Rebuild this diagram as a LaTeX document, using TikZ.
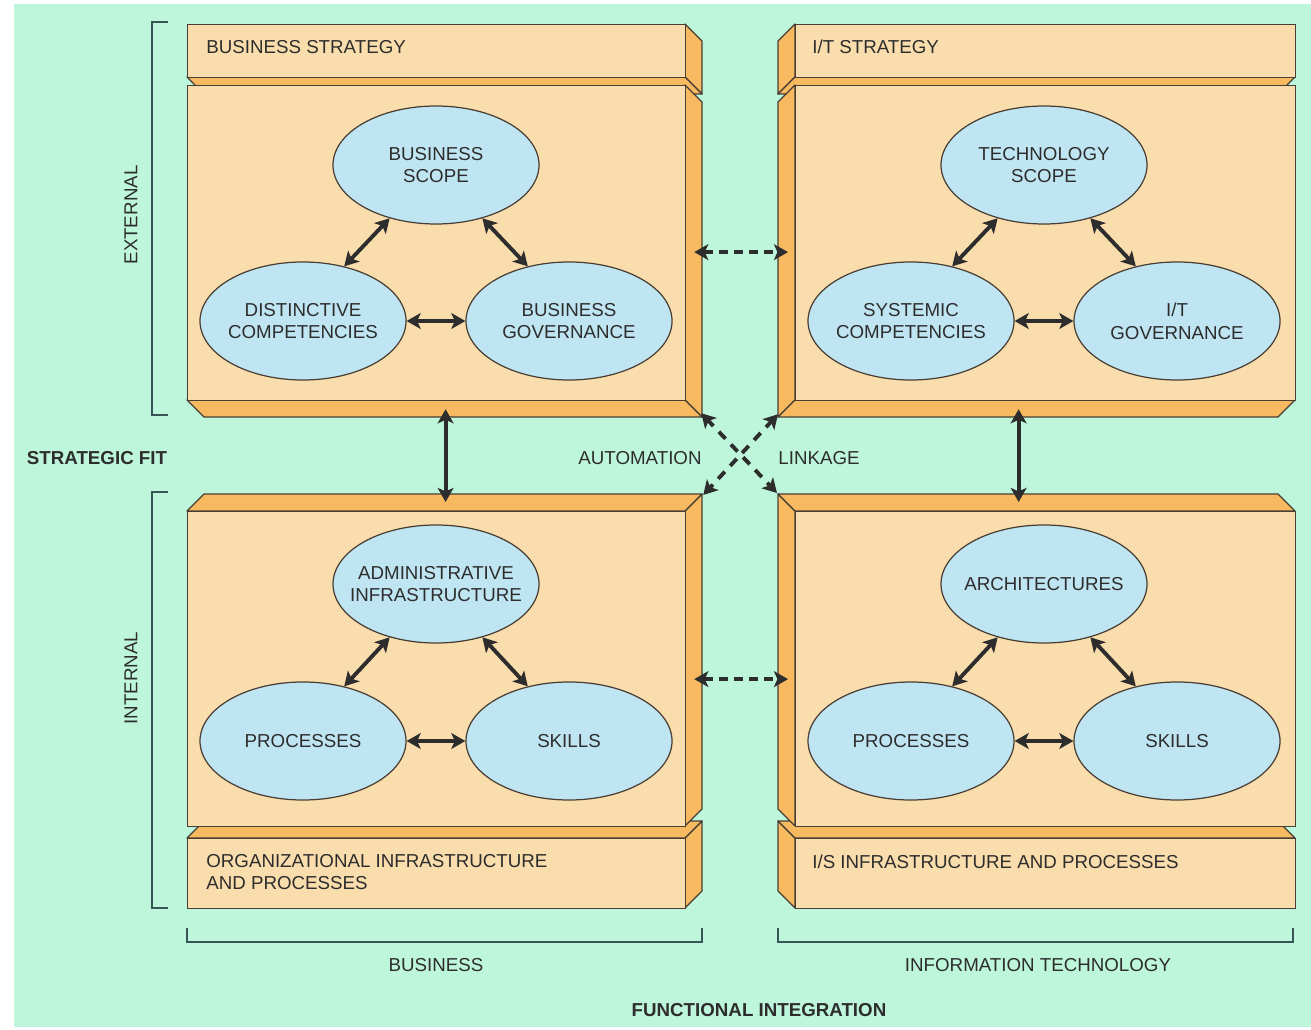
\documentclass[tikz,border=0pt]{standalone}
\usepackage{fontspec}
\setmainfont{Liberation Sans}
\usetikzlibrary{shapes.geometric,arrows.meta}
\definecolor{bgmint}{RGB}{190,246,220}
\definecolor{tanface}{RGB}{250,221,172}
\definecolor{orng}{RGB}{247,186,96}
\definecolor{skyb}{RGB}{192,229,242}
\definecolor{edgec}{RGB}{72,62,52}
\definecolor{ink}{RGB}{45,45,45}
\definecolor{brk}{RGB}{55,85,85}
\def\px{0.02cm}
\tikzset{
  frontface/.style={draw=edgec, fill=tanface, line width=0.7pt, inner sep=0pt, rectangle},
  sideface/.style={draw=edgec, fill=orng, line width=0.7pt, line join=round},
  ell/.style={ellipse, draw=edgec, fill=skyb, line width=0.7pt, minimum width=206*\px, minimum height=118*\px, inner xsep=-10pt, inner ysep=0pt, align=center, text=ink, font=\fontsize{10.66pt}{13pt}\selectfont},
  lbl/.style={text=ink, font=\fontsize{10.66pt}{12.6pt}\selectfont, inner sep=0pt, align=left},
  blbl/.style={text=ink, font=\fontsize{10.66pt}{12.6pt}\selectfont\bfseries, inner sep=0pt},
  dbl/.style={line width=2.2pt, draw=ink, {Stealth[length=8pt,width=9pt,inset=2pt]}-{Stealth[length=8pt,width=9pt,inset=2pt]}},
  dashdbl/.style={dbl, dash pattern=on 5pt off 3.6pt},
  diagdbl/.style={dbl, dash pattern=on 5.5pt off 4.5pt, dash phase=1pt},
  bracket/.style={draw=brk, line width=1.1pt},
}
% name, x1, y1, x2, y2, dx, dy
\newcommand\slab[7]{%
  \pgfmathsetmacro\slabsx{ifthenelse(#6>0,#4,#2)}%
  \pgfmathsetmacro\slabty{ifthenelse(#7>0,#5,#3)}%
  \filldraw[sideface] (\slabsx,#3) -- ++(#6,#7) -- ++(0,{#5-#3}) -- (\slabsx,#5) -- cycle;
  \filldraw[sideface] (#2,\slabty) -- (#4,\slabty) -- ++(#6,#7) -- ({#2+(#6)},{\slabty+(#7)}) -- cycle;
  \node[frontface, minimum width={(#4-#2)*\px}, minimum height={(#5-#3)*\px}, anchor=north west] (#1) at (#2,#3) {};
}
\begin{document}
\begin{tikzpicture}[x=\px,y=-\px]
\useasboundingbox (0,0) rectangle (1311,1030);
\fill[white] (0,0) rectangle (1311,1030);
\fill[bgmint] (14,4) rectangle (1311,1027);

% slabs
\slab{tls}{187}{24}{685}{77}{17}{17}
\slab{tlm}{187}{85}{685}{400}{17}{17}
\slab{trs}{795}{24}{1295}{77}{-17}{17}
\slab{trm}{795}{85}{1295}{400}{-17}{17}
\slab{bls}{187}{838}{685}{908}{17}{-17}
\slab{blm}{187}{511}{685}{826}{17}{-17}
\slab{brs}{795}{838}{1295}{908}{-17}{-17}
\slab{brm}{795}{511}{1295}{826}{-17}{-17}

% strip texts
\node[lbl, anchor=west] (bst) at (206,47) {BUSINESS STRATEGY};
\node[lbl, anchor=west] (its) at (812,47) {I/T STRATEGY};
\node[lbl, anchor=west] (oip) at (206,872) {ORGANIZATIONAL INFRASTRUCTURE\\AND PROCESSES};
\node[lbl, anchor=west] (isp) at (812,862) {I/S INFRASTRUCTURE AND PROCESSES};

% ellipses
\node[ell] (bsc) at (436,165) {BUSINESS\\SCOPE};
\node[ell] (dco) at (303,321) {DISTINCTIVE\\COMPETENCIES};
\node[ell] (bgo) at (569,321) {BUSINESS\\GOVERNANCE};
\node[ell] (tsc) at (1044,165) {TECHNOLOGY\\SCOPE};
\node[ell] (sco) at (911,321) {SYSTEMIC\\COMPETENCIES};
\node[ell] (itg) at (1177,321) {I/T\\GOVERNANCE};
\node[ell] (adm) at (436,584) {ADMINISTRATIVE\\INFRASTRUCTURE};
\node[ell] (pro) at (303,741) {PROCESSES};
\node[ell] (ski) at (569,741) {SKILLS};
\node[ell] (arc) at (1044,584) {ARCHITECTURES};
\node[ell] (prt) at (911,741) {PROCESSES};
\node[ell] (skt) at (1177,741) {SKILLS};

% triangle arrows
\foreach \a/\b/\c in {bsc/dco/bgo, tsc/sco/itg, adm/pro/ski, arc/prt/skt}{
  \draw[dbl] (\a.229) -- (\b.53);
  \draw[dbl] (\a.311) -- (\c.127);
  \draw[dbl] (\b.east) -- (\c.west);
}

% links between boxes
\draw[dashdbl] ([shift={(8,9)}]tlm.east) -- ([shift={(-7,9)}]trm.west);
\draw[dashdbl] ([shift={(8,10)}]blm.east) -- ([shift={(-7,10)}]brm.west);
\draw[dbl] ([shift={(9,8)}]tlm.south) -- ([shift={(9,-9)}]blm.north);
\draw[dbl] ([shift={(-27,8)}]trm.south) -- ([shift={(-27,-9)}]brm.north);
\draw[diagdbl] ([shift={(15,12)}]tlm.south east) -- ([shift={(-18,-18)}]brm.north west);
\draw[diagdbl] ([shift={(-17,13)}]trm.south west) -- ([shift={(17,-16)}]blm.north east);

% labels
\node[lbl] (auto) at (640,458) {AUTOMATION};
\node[lbl] (link) at (819,458) {LINKAGE};
\node[blbl] (sfit) at (97,458) {STRATEGIC FIT};
\node[lbl, rotate=90] (ext) at (131,215) {EXTERNAL};
\node[lbl, rotate=90] (int) at (131,678) {INTERNAL};
\node[lbl] (busl) at (436,965) {BUSINESS};
\node[lbl] (itl) at (1038,965) {INFORMATION TECHNOLOGY};
\node[blbl] (fint) at (759,1010) {FUNCTIONAL INTEGRATION};

% brackets
\draw[bracket] (168,22) -- (152,22) -- (152,415) -- (168,415);
\draw[bracket] (168,492) -- (152,492) -- (152,908) -- (168,908);
\draw[bracket] (187,928) -- (187,942) -- (702,942) -- (702,928);
\draw[bracket] (778,928) -- (778,942) -- (1293,942) -- (1293,928);
\end{tikzpicture}
\end{document}
